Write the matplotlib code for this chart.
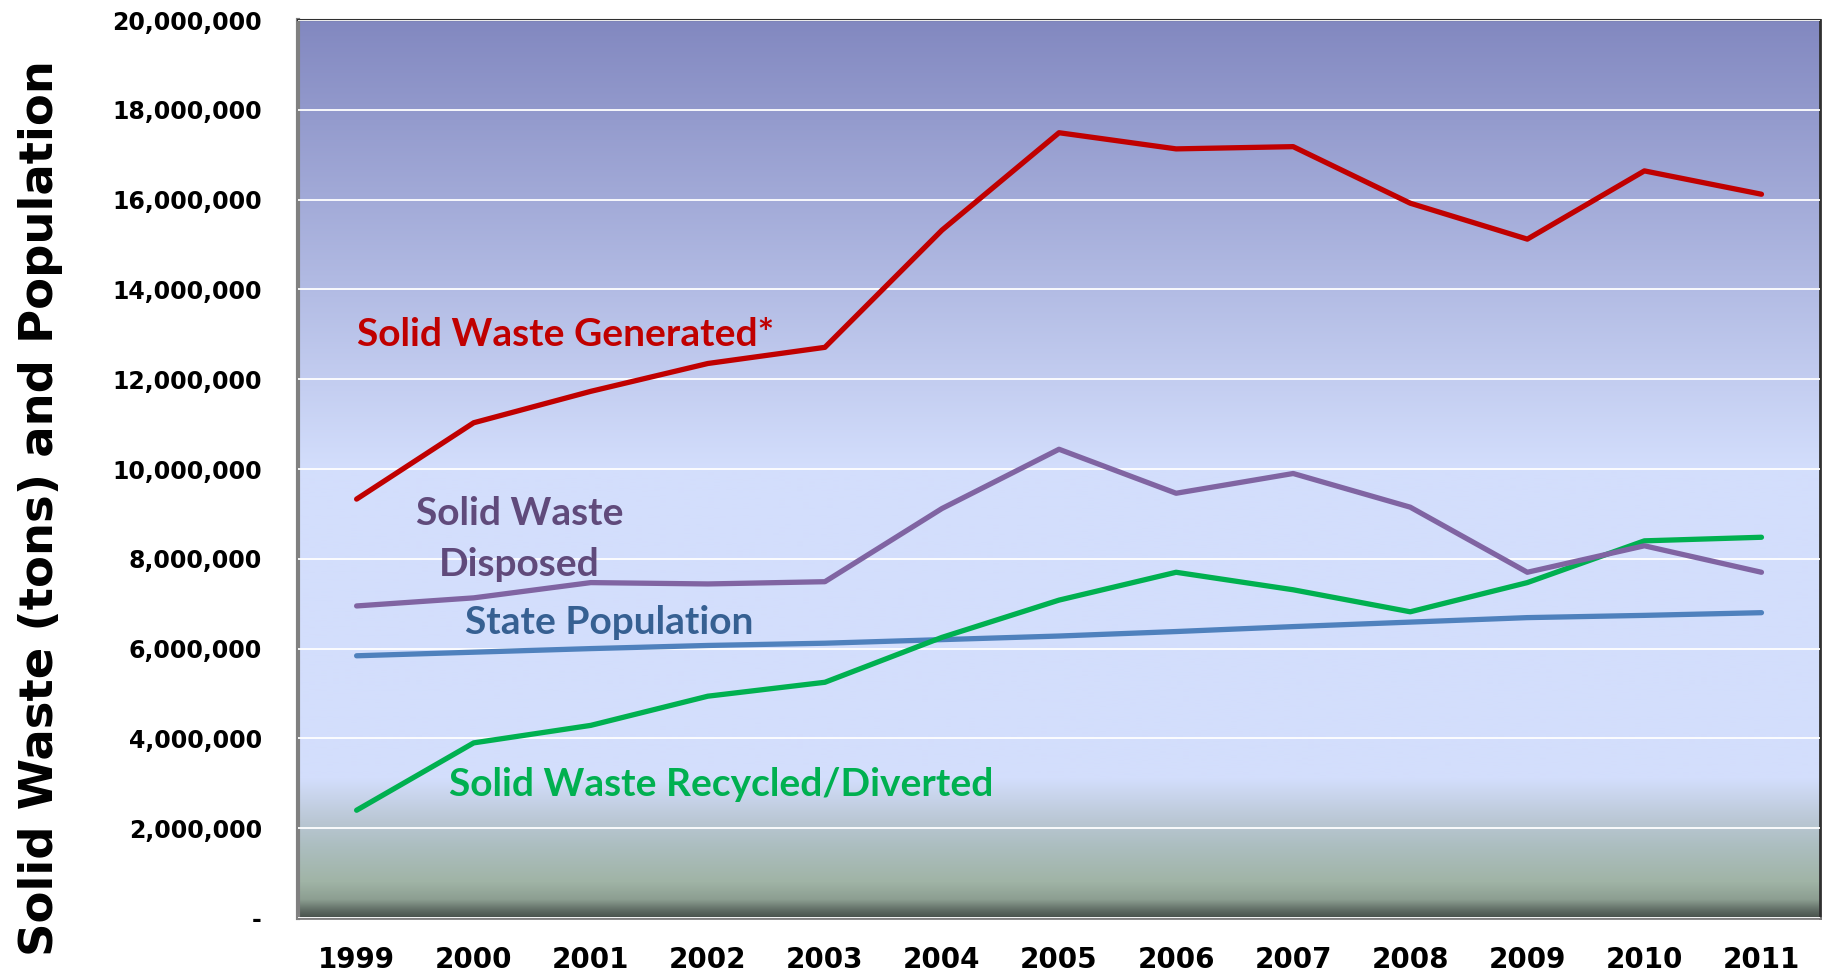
import numpy as np
import matplotlib
matplotlib.use("Agg")
import matplotlib.pyplot as plt
from matplotlib.ticker import FuncFormatter

years = ["1999", "2000", "2001", "2002", "2003", "2004", "2005",
         "2006", "2007", "2008", "2009", "2010", "2011"]
generated = [9.33e6, 11.03e6, 11.73e6, 12.35e6, 12.71e6, 15.32e6, 17.49e6,
             17.13e6, 17.18e6, 15.92e6, 15.12e6, 16.64e6, 16.12e6]
disposed = [6.95e6, 7.13e6, 7.47e6, 7.44e6, 7.49e6, 9.12e6, 10.44e6,
            9.46e6, 9.90e6, 9.15e6, 7.70e6, 8.29e6, 7.70e6]
population = [5.84e6, 5.92e6, 6.00e6, 6.07e6, 6.12e6, 6.20e6, 6.28e6,
              6.38e6, 6.49e6, 6.59e6, 6.69e6, 6.74e6, 6.80e6]
recycled = [2.40e6, 3.90e6, 4.29e6, 4.94e6, 5.25e6, 6.25e6, 7.08e6,
            7.70e6, 7.31e6, 6.82e6, 7.47e6, 8.40e6, 8.48e6]
y_ticks = [0, 2e6, 4e6, 6e6, 8e6, 10e6, 12e6, 14e6, 16e6, 18e6, 20e6]

fig = plt.figure(figsize=(18.22, 9.77), dpi=100)
ax = fig.add_axes([0.1636, 0.0604, 0.8353, 0.9191])

x = np.arange(len(years))
ax.set_xlim(-0.5, len(years) - 0.5)
ax.set_ylim(0, 20e6)

# background gradient (bottom -> top)
stops = [(0.00, (72, 82, 76)), (0.008, (95, 108, 100)), (0.02, (140, 158, 145)),
         (0.04, (160, 180, 166)), (0.08, (172, 190, 192)), (0.11, (187, 200, 214)),
         (0.155, (211, 222, 252)), (0.50, (211, 222, 252)), (1.00, (130, 136, 192))]
n = 800
pos = np.linspace(0, 1, n)
cols = np.zeros((n, 1, 3))
sp = [s[0] for s in stops]
for c in range(3):
    cols[:, 0, c] = np.interp(pos, sp, [s[1][c] / 255 for s in stops])
ax.imshow(cols, extent=(-0.5, len(years) - 0.5, 0, 20e6), origin="lower",
          aspect="auto", zorder=0, interpolation="bilinear")

ax.set_yticks(y_ticks)
ax.yaxis.set_major_formatter(FuncFormatter(lambda v, p: "-" if v == 0 else f"{int(v):,}"))
ax.grid(axis="y", color="white", linewidth=1.3, zorder=1)
ax.set_axisbelow(False)
ax.set_xticks(x)
ax.set_xticklabels(years)
ax.tick_params(length=0)
ax.tick_params(axis="y", pad=26)
ax.tick_params(axis="x", pad=20)
for lab in ax.get_yticklabels():
    lab.set_fontsize(17)
    lab.set_fontweight("bold")
for lab in ax.get_xticklabels():
    lab.set_fontsize(20)
    lab.set_fontweight("bold")

ax.spines["left"].set_color("#808080")
ax.spines["left"].set_linewidth(3)
ax.spines["bottom"].set_color("#808080")
ax.spines["bottom"].set_linewidth(2)
ax.spines["top"].set_color("#303030")
ax.spines["top"].set_linewidth(1.5)
ax.spines["right"].set_color("#303030")
ax.spines["right"].set_linewidth(2)

lw = 3.8
ax.plot(x, population, color="#4F81BD", lw=lw, solid_capstyle="round", zorder=3)
ax.plot(x, recycled, color="#00B050", lw=lw, solid_capstyle="round", zorder=3)
ax.plot(x, disposed, color="#8064A2", lw=lw, solid_capstyle="round", zorder=3)
ax.plot(x, generated, color="#C00000", lw=lw, solid_capstyle="round", zorder=4)

afont = dict(family="Lato", fontweight="bold", fontsize=28)
ax.text(0.0, 13.0e6, "Solid Waste Generated*", color="#C00000", ha="left", va="center", **afont)
ax.text(1.39, 8.45e6, "Solid Waste\nDisposed", color="#604A7B", ha="center", va="center",
        linespacing=1.55, **afont)
ax.text(0.93, 6.59e6, "State Population", color="#366092", ha="left", va="center", **afont)
ax.text(0.79, 2.98e6, "Solid Waste Recycled/Diverted", color="#00B050", ha="left", va="center", **afont)

fig.text(0.0225, 0.48, "Solid Waste (tons) and Population", rotation=90, ha="center",
         va="center", fontsize=33.5, fontweight="bold", family="DejaVu Sans")

fig.savefig("out.png", dpi=100)
